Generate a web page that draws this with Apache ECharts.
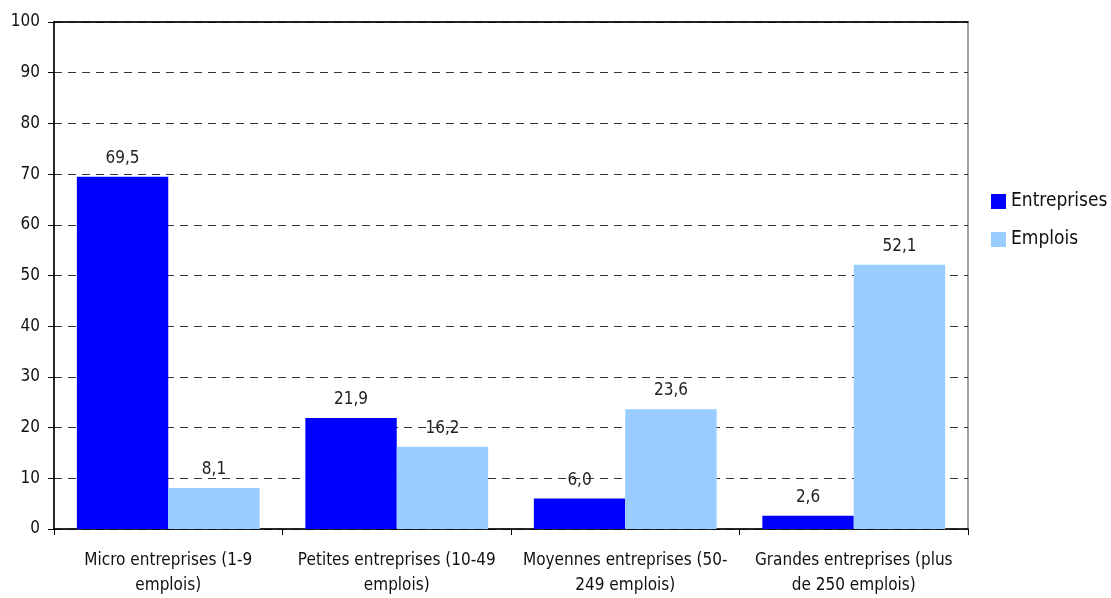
<!DOCTYPE html>
<html>
<head>
<meta charset="utf-8">
<script src="https://cdn.jsdelivr.net/npm/echarts@6/dist/echarts.min.js"></script>
<style>
  html, body { margin: 0; padding: 0; background: #fff; }
  #chart { width: 1111px; height: 598px; }
</style>
</head>
<body>
<div id="chart"></div>
<script>
const categories = [
  'Micro entreprises (1-9\nemplois)',
  'Petites entreprises (10-49\nemplois)',
  'Moyennes entreprises (50-\n249 emplois)',
  'Grandes entreprises (plus\nde 250 emplois)'
];
const entreprises = [69.5, 21.9, 6.0, 2.6];
const emplois = [8.1, 16.2, 23.6, 52.1];

const FONT = "'Liberation Sans Narrow', 'DejaVu Sans Condensed', 'Liberation Sans', sans-serif";

const chart = echarts.init(document.getElementById('chart'));

const labelOpt = {
  show: true,
  position: 'top',
  distance: 10,
  color: '#222',
  fontSize: 17,
  fontFamily: FONT,
  formatter: p => p.value.toFixed(1).replace('.', ',')
};

chart.setOption({
  animation: false,
  textStyle: { fontFamily: FONT },
  grid: {
    left: 54, right: 143, top: 22, bottom: 69,
    show: true, borderColor: '#808080', borderWidth: 1.5
  },
  legend: {
    orient: 'vertical',
    left: 986, top: 187,
    itemWidth: 15, itemHeight: 15, itemGap: 19,
    icon: 'rect',
    textStyle: { fontSize: 19, color: '#111', fontFamily: FONT }
  },
  xAxis: [
    {
      type: 'category',
      data: categories,
      axisLine: { lineStyle: { color: '#000', width: 1.5 } },
      axisTick: { show: true, length: 6, lineStyle: { color: '#000' } },
      axisLabel: { fontSize: 17, color: '#111', lineHeight: 25, margin: 19, interval: 0 }
    },
    {
      type: 'category',
      data: categories,
      position: 'top',
      axisLine: { lineStyle: { color: '#000', width: 1.5 } },
      axisTick: { show: false },
      axisLabel: { show: false }
    }
  ],
  yAxis: {
    type: 'value',
    min: 0, max: 100, interval: 10,
    axisLine: { show: true, lineStyle: { color: '#000', width: 1.5 } },
    axisTick: { show: true, length: 6, lineStyle: { color: '#000' } },
    axisLabel: { fontSize: 17, color: '#111', margin: 14 },
    splitLine: { lineStyle: { color: '#333', type: [8, 6], width: 1 } }
  },
  series: [
    {
      name: 'Entreprises',
      type: 'bar',
      data: entreprises,
      barGap: 0,
      barCategoryGap: '20%',
      itemStyle: { color: '#0000FF' },
      label: labelOpt
    },
    {
      name: 'Emplois',
      type: 'bar',
      data: emplois,
      itemStyle: { color: '#99CCFF' },
      label: labelOpt
    }
  ]
});
</script>
</body>
</html>
